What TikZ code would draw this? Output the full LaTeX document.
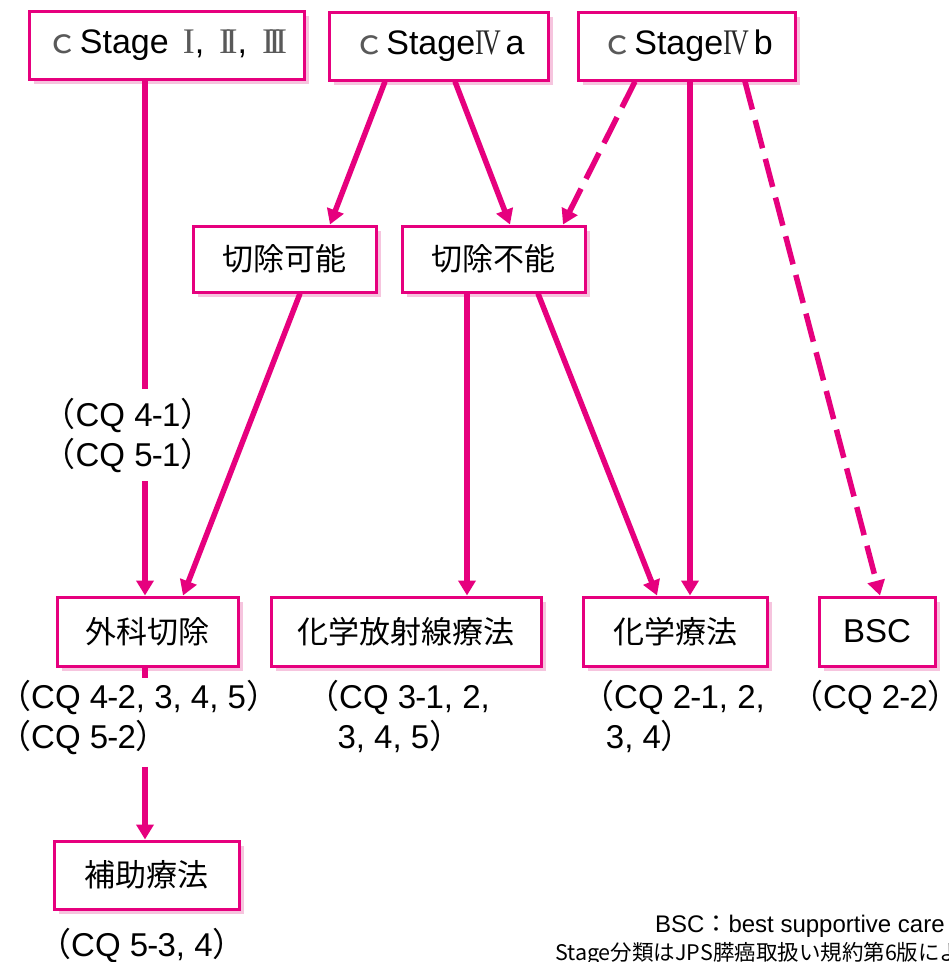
\documentclass[tikz,border=0pt]{standalone}
\usepackage{fontspec}
\usepackage{graphicx}
\setmainfont{Liberation Sans}
\newfontfamily\cjk{Noto Sans CJK JP}
\newfontfamily\serf{Liberation Serif}
\usetikzlibrary{arrows.meta,shadows,calc}
\definecolor{mg}{RGB}{230,0,126}
\definecolor{shpink}{RGB}{246,196,222}
\newcommand\jlp{{\cjk （}}
\newcommand\jrp{{\cjk ）}}
\newcommand\dsh{\kern-0.8pt-\kern-0.8pt}
\newcommand\gry[1]{{\cjk\color{black!65}#1}}
\newcommand\rmn[1]{{\serf\fontsize{36}{36}\selectfont\color{black!65}#1}}
\newcommand\rmIV{{\serf\fontsize{36}{36}\selectfont\color{black!85}\scalebox{0.72}[1]{I\kern-2.5pt V}}}
\begin{document}
\begin{tikzpicture}[x=1pt,y=-1pt,
  box/.style={draw=mg, line width=3pt, fill=white, inner sep=0pt,
    minimum height=68pt, text=black,
    font=\cjk\fontsize{31}{36}\selectfont,
    drop shadow={shadow xshift=4.5pt, shadow yshift=-4.5pt, fill=shpink, opacity=1}},
  stg/.style={box, font=\fontsize{34}{36}\selectfont},
  lbl/.style={inner sep=0pt, text=black, font=\fontsize{33}{40}\selectfont},
  ln/.style={draw=mg, line width=5.5pt},
  arr/.style={ln, -{Triangle[length=15pt,width=17pt]}},
  dsh/.style={arr, dash pattern=on 29pt off 11pt}]
\fill[white] (0,0) rectangle (949,962);
\useasboundingbox (0,0) rectangle (949,962);

% top row
\node[stg, minimum width=275pt] (s1) at (166.5,45.5)
  {\gry{ｃ}Stage\hspace{14pt}\rmn{I},\hspace{15pt}\rmn{I\kern-5.5pt I},\hspace{15pt}\rmn{I\kern-5.5pt I\kern-5.5pt I}};
\node[stg, minimum width=219pt] (s2) at (438.5,46) {\gry{ｃ}Stage\rmIV\hspace{5pt}a};
\node[stg, minimum width=217pt] (s3) at (686.5,46) {\gry{ｃ}Stage\rmIV\hspace{5pt}b};

% middle row
\node[box, minimum width=183pt, minimum height=66pt] (rk) at (284.5,259) {切除可能};
\node[box, minimum width=183pt, minimum height=66pt] (rf) at (493.5,259) {切除不能};

% bottom row
\node[box, minimum width=181pt, minimum height=69pt] (gk) at (147.5,631.5) {外科切除};
\node[box, minimum width=270pt, minimum height=69pt] (kh) at (406,631.5) {化学放射線療法};
\node[box, minimum width=184pt, minimum height=69pt] (kr) at (675,631.5) {化学療法};
\node[box, minimum width=116pt, minimum height=69pt, font=\fontsize{33}{36}\selectfont] (bsc) at (877,631.5) {BSC};
\node[box, minimum width=185pt, minimum height=68pt] (hj) at (146.5,875) {補助療法};

% labels
\node[lbl, align=center, inner ysep=9pt] (cq41) at (128,435) {\jlp CQ 4\dsh1\jrp\\\jlp CQ 5\dsh1\jrp};
\node[lbl, align=left, anchor=north west, inner ysep=2pt] (cq42) at (-2,678) {\jlp CQ 4\dsh2, 3, 4, 5\jrp\\\jlp CQ 5\dsh2\jrp};
\node[lbl, align=left, anchor=north west, inner ysep=2pt] (cq3) at (306,678) {\jlp CQ 3\dsh1, 2,\\\hspace*{0.95em}3, 4, 5\jrp};
\node[lbl, align=left, anchor=north west, inner ysep=2pt] (cq2) at (581,678) {\jlp CQ 2\dsh1, 2,\\\hspace*{0.75em}3, 4\jrp};
\node[lbl, align=left, anchor=north west, inner ysep=2pt] (cq22) at (790,678) {\jlp CQ 2\dsh2\jrp};
\node[lbl, anchor=base west] (cq53) at (38,956) {\jlp CQ 5\dsh3, 4\jrp};

\node[anchor=base west, inner sep=0pt, font=\fontsize{24}{26}\selectfont] (n1) at (655,932) {BSC{\cjk ：}best supportive care};
\node[anchor=base west, inner sep=0pt, font=\cjk\fontsize{21.5}{24}\selectfont] (n2) at (555,960) {Stage分類はJPS膵癌取扱い規約第6版による};

% connectors
\coordinate (l1) at ([xshift=-21.5pt]s1.south);
\draw[ln] (l1) -- (l1 |- cq41.north);
\draw[arr] (l1 |- cq41.south) -- (l1 |- gk.north);
\draw[ln] (gk.south -| l1) -- (l1 |- cq42.north);
\coordinate (g2) at ($(l1 |- cq42.south)+(0,10)$);
\draw[arr] (g2) -- (l1 |- hj.north);

\draw[arr] ([xshift=-53.5pt]s2.south) -- ([xshift=45.5pt]rk.north);
\draw[arr] ([xshift=16.5pt]s2.south) -- ([xshift=16.5pt]rf.north);
\draw[dsh] ([xshift=-51.5pt]s3.south) -- ([xshift=69.5pt]rf.north);
\draw[arr] ([xshift=3.5pt]s3.south) -- ([xshift=15pt]kr.north);
\draw[dsh] ([xshift=58.5pt]s3.south) -- ([xshift=3pt]bsc.north);

\draw[arr] ([xshift=15.5pt]rk.south) -- ([xshift=35.5pt]gk.north);
\draw[arr] ([xshift=-26.5pt]rf.south) -- ([xshift=61pt]kh.north);
\draw[arr] ([xshift=44.5pt]rf.south) -- ([xshift=-18pt]kr.north);
\end{tikzpicture}
\end{document}
